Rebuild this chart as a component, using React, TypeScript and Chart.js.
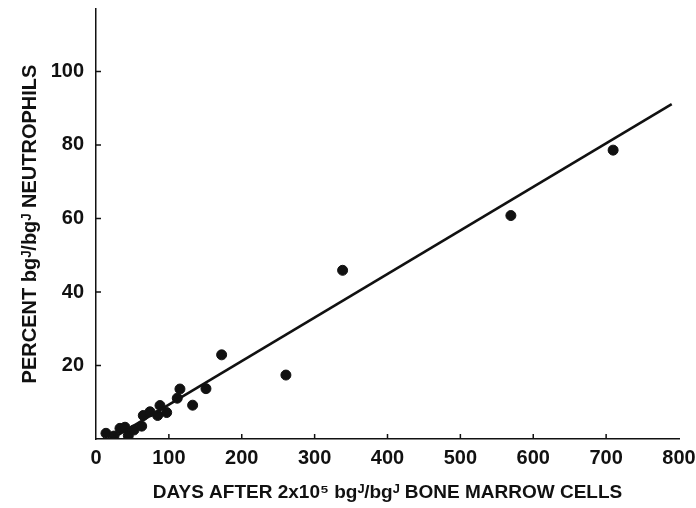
import { useEffect, useRef } from "react";
import { Chart, registerables } from "chart.js";

Chart.register(...registerables);

const days = [13.7, 24.7, 32.9, 39.8, 44.3, 52.1, 62.7, 64.9, 74.1, 84.6, 87.8, 97, 111.5, 115.2, 132.6, 150.9, 172.4, 260.6, 338.4, 569.3, 709.6];
const percent = [1.55, 0.8, 2.9, 3.2, 0.9, 2.45, 3.5, 6.4, 7.4, 6.4, 9.1, 7.2, 11.1, 13.6, 9.2, 13.7, 22.9, 17.4, 45.9, 60.8, 78.6];
const fitDays = [22, 790];
const fitPercent = [0.1, 91.1];
const xTickValues = [0, 100, 200, 300, 400, 500, 600, 700, 800];
const yTickValues = [20, 40, 60, 80, 100];

const FONT = "'Liberation Sans', Arial, sans-serif";

const innerTicks = {
  id: "innerTicks",
  afterDraw(chart: any) {
    const { ctx, scales } = chart;
    const x = scales.x;
    const y = scales.y;
    ctx.save();
    ctx.strokeStyle = "#111";
    ctx.lineWidth = 1.5;
    ctx.beginPath();
    for (const v of xTickValues) {
      if (v === 0 || v === 800) continue;
      const px = x.getPixelForValue(v);
      ctx.moveTo(px, y.bottom);
      ctx.lineTo(px, y.bottom - 5);
    }
    for (const v of yTickValues) {
      const py = y.getPixelForValue(v);
      ctx.moveTo(x.left, py);
      ctx.lineTo(x.left + 5, py);
    }
    ctx.stroke();
    ctx.restore();
  },
};

export default function App() {
  const ref = useRef<HTMLCanvasElement>(null);
  useEffect(() => {
    document.body.style.margin = "0";
    document.body.style.background = "#fff";
    const canvas = ref.current!;
    const chart = new Chart(canvas, {
      type: "scatter",
      data: {
        datasets: [
          {
            type: "line",
            data: fitDays.map((d, i) => ({ x: d, y: fitPercent[i] })),
            borderColor: "#111",
            borderWidth: 2.6,
            pointRadius: 0,
            fill: false,
          },
          {
            type: "scatter",
            data: days.map((d, i) => ({ x: d, y: percent[i] })),
            backgroundColor: "#111",
            borderColor: "#111",
            pointRadius: 5,
            pointHoverRadius: 5,
          },
        ],
      },
      plugins: [innerTicks],
      options: {
        animation: false,
        responsive: false,
        maintainAspectRatio: false,
        events: [],
        layout: { padding: { left: 0, right: 17, top: 9, bottom: 0 } },
        plugins: { legend: { display: false }, tooltip: { enabled: false } },
        scales: {
          x: {
            type: "linear",
            min: 0,
            max: 800,
            afterBuildTicks: (s: any) => {
              s.ticks = xTickValues.map((v) => ({ value: v }));
            },
            afterFit: (s: any) => {
              s.height = 69;
              s.paddingLeft = 0;
              s.paddingRight = 0;
            },
            grid: { display: true, drawOnChartArea: false, drawTicks: false, color: "#111" },
            border: { display: true, color: "#111", width: 1.5 },
            ticks: {
              padding: 7,
              color: "#111",
              font: { family: FONT, size: 20, weight: "bold" },
              maxRotation: 0,
              autoSkip: false,
            },
            title: {
              display: true,
              text: "DAYS AFTER 2x10⁵ bgᴶ/bgᴶ BONE MARROW CELLS",
              color: "#111",
              font: { family: FONT, size: 19, weight: "bold" },
              padding: { top: 0, bottom: 4 },
            },
          },
          y: {
            type: "linear",
            min: 0,
            max: 117,
            afterBuildTicks: (s: any) => {
              s.ticks = yTickValues.map((v) => ({ value: v }));
            },
            afterFit: (s: any) => {
              s.width = 96;
              s.paddingTop = 0;
              s.paddingBottom = 0;
            },
            grid: { display: true, drawOnChartArea: false, drawTicks: false, color: "#111" },
            border: { display: true, color: "#111", width: 1.5 },
            ticks: {
              padding: 12,
              color: "#111",
              font: { family: FONT, size: 20, weight: "bold" },
            },
            title: {
              display: true,
              text: "PERCENT bgᴶ/bgᴶ NEUTROPHILS",
              color: "#111",
              font: { family: FONT, size: 20, weight: "bold" },
              padding: { top: 18, bottom: 0 },
            },
          },
        },
      },
    } as any);
    return () => chart.destroy();
  }, []);
  return (
    <div style={{ width: 696, height: 508 }}>
      <canvas ref={ref} width={696} height={508} style={{ width: 696, height: 508, display: "block" }} />
    </div>
  );
}
